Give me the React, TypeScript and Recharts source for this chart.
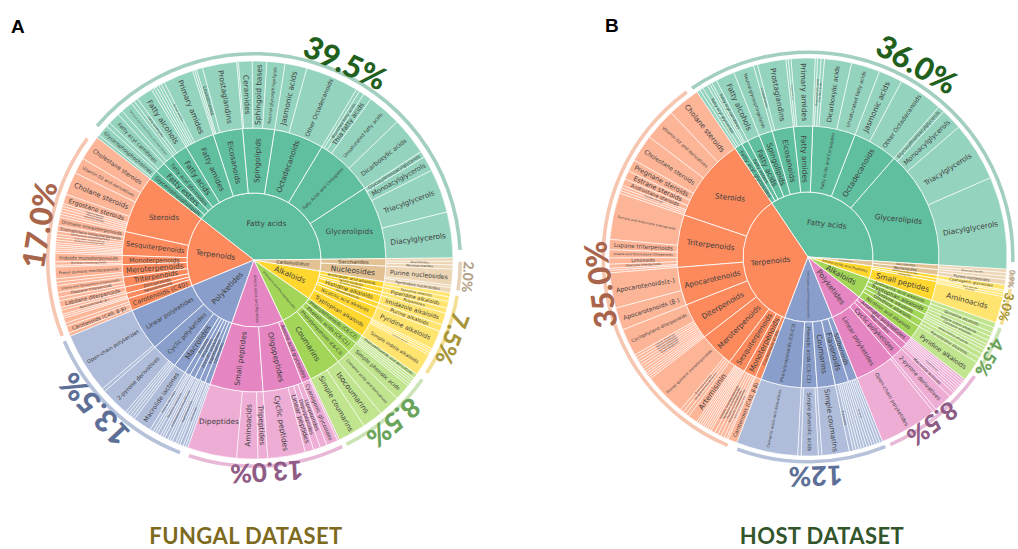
import { PieChart, Pie, Cell } from "recharts"

type Leaf = [string, number]
type Branch = [string, Leaf[]]

// Values are degrees of the wheel. Each wheel adds up to 360.
const fungalFattyAcids: Branch[] = [
  ["Glycerolipids", [["Diacylglycerols", 13.4], ["Triacylglycerols", 12.8], ["Monoacylglycerols", 4.4], ["Glycosylmonoacylglycerols", 1.8]]],
  ["Fatty Acids and Conjugates", [["Dicarboxylic acids", 11], ["Unsaturated fatty acids", 10], ["Thia fatty acids", 2.5], ["Branched fatty acids", 1.5], ["", 1]]],
  ["Octadecanoids", [["Other Octadecanoids", 15.6], ["Jasmonic acids", 6.4]]],
  ["Spingolipids", [["Neutral glycosphingolipids", 5.3], ["Sphingoid bases", 4.2], ["Ceramides", 4], ["", 0.5]]],
  ["Eicosanoids", [["Prostaglandins", 10], ["Leukotrienes", 1.8], ["", 0.6], ["", 0.6]]],
  ["Fatty amides", [["Primary amides", 8.8], ["N-acyl amines", 1], ["", 0.8], ["", 0.8], ["", 0.8], ["", 0.8]]],
  ["Fatty acids", [["Fatty alcohols", 4.8], ["Fatty aldehydes", 1.2], ["", 1]]],
  ["Fatty acyl glycosides", [["Fatty acyl glycosides of mono- and disaccharides", 3.5], ["", 1.5]]],
  ["Fatty esters", [["Fatty acyl carnitines", 3.5], ["", 1.2]]],
  ["Glycerophospholipids", [["Glycerophosphocholines", 3.4], ["", 0.9]]],
]

const fungalTerpenoids: Branch[] = [
  ["Steroids", [["Cholestane steroids", 7.3], ["Vitamin D2 and derivatives", 4.7], ["Cholane steroids", 6.7], ["Ergostane steroids", 2.8], ["Pregnane steroids", 0.8], ["Estrane steroids", 0.8], ["Androstane steroids", 0.8], ["", 0.8], ["", 0.8]]],
  ["Sesquiterpenoids", [["Drimane sesquiterpenoids", 2.5], ["Eremophilane sesquiterpenoids", 1.6], ["Germacrane sesquiterpenoids", 1], ["Eudesmane sesquiterpenoids", 0.8], ["Bisabolane sesquiterpenoids", 0.8], ["", 0.8], ["", 0.6], ["", 0.6], ["", 0.6], ["", 0.6], ["", 0.6]]],
  ["Monoterpenoids", [["Iridoids monoterpenoids", 2.5], ["Menthane monoterpenoids", 1], ["", 0.5]]],
  ["Meroterpenoids", [["Prenyl quinone meroterpenoids", 3.4], ["", 1], ["", 1]]],
  ["Triterpenoids", [["Ursane and Taraxastane triterpenoids", 2], ["Oleanane triterpenoids", 1.4], ["", 1]]],
  ["Diterpenoids", [["Labdane diterpenoids", 2], ["", 0.8]]],
  ["Apocarotenoids", [["Apocarotenoids (β-)", 1.2], ["", 0.6], ["", 0.6]]],
  ["Carotenoids (C40)", [["", 1.5], ["", 1], ["Carotenoids (C40, β-β)", 2], ["", 1]]],
]

const fungalPolyketides: Branch[] = [
  ["Linear polyketides", [["Open-chain polyketides", 17.8], ["", 1]]],
  ["Cyclic polyketides", [["2-pyrone derivatives", 8.5], ["", 0.8], ["", 0.8], ["", 0.8], ["", 0.8]]],
  ["Macrolides", [["Macrolide lactones", 5.5]]],
  ["Polyenes", [["Polyene macrolides", 1], ["", 0.7], ["", 0.7]]],
  ["Polyethers", [["Polyether ionophores", 1], ["", 0.7], ["", 0.7]]],
  ["Aromatic polyketides", [["Anthraquinones and anthrones", 1], ["", 0.7], ["", 0.7]]],
  ["Naphthalenes", [["Naphthoquinones", 1], ["", 0.7], ["", 0.7]]],
  ["Chromanes", [["Chromones", 1], ["", 0.7], ["", 0.7]]],
]

const fungalPeptides: Branch[] = [
  ["Small peptides", [["Dipeptides", 14.4], ["Aminoacids", 6.2], ["Tripeptides", 2.8]]],
  ["Oligopeptides", [["Cyclic peptides", 11], ["Linear peptides", 2.5], ["Depsipeptides", 2], ["Lipopeptides", 2]]],
  ["Amino acid glycosides", [["Cyanogenic glycosides", 3.4], ["", 0.6]]],
]

const fungalShikimates: Branch[] = [
  ["Coumarins", [["Simple coumarins", 8.1], ["Isocoumarins", 6.1]]],
  ["Phenylpropanoids (C6-C3)", [["Cinnamic acids and derivatives", 6.3]]],
  ["Phenolic acids (C6-C1)", [["Simple phenolic acids", 4.8]]],
  ["Phenylethanoids (C6-C2)", [["", 0.7], ["", 0.7], ["", 0.7], ["", 0.7], ["Phenylethanoids and derivatives", 1.4]]],
]

const fungalAlkaloids: Branch[] = [
  ["Tryptophan alkaloids", [["Simple indole alkaloids", 6.5], ["Carboline alkaloids", 0.7], ["", 0.7], ["", 0.6]]],
  ["Nicotinic acid alkaloids", [["Pyridine alkaloids", 5.5]]],
  ["Pseudoalkaloids", [["Purine alkaloids", 2]]],
  ["Histidine alkaloids", [["Imidazole alkaloids", 3.5]]],
  ["Ornithine alkaloids", [["Polyamines", 1.5]]],
  ["Lysine alkaloids", [["Piperidine alkaloids", 2]]],
  ["Anthranilic acid alkaloids", [["Quinoline alkaloids", 1.3], ["", 1.2]]],
]

const fungalCarbohydrates: Branch[] = [
  ["Nucleosides", [["Pyrimidine nucleosides", 1.5], ["", 0.7], ["Purine nucleosides", 4.7]]],
  ["Saccharides", [["Monosaccharides", 1.2], ["Disaccharides", 1], ["", 1]]],
]

const hostFattyAcids: Branch[] = [
  ["Glycerolipids", [["Diacylglycerols", 27], ["Triacylglycerols", 17.3], ["Monoacylglycerols", 6.2], ["Glycosylmonoacylglycerols", 2]]],
  ["Octadecanoids", [["Other Octadecanoids", 13], ["Jasmonic acids", 7]]],
  ["Fatty Acids and Conjugates", [["Unsaturated fatty acids", 8.4], ["Dicarboxylic acids", 7.9], ["Thia fatty acids", 1], ["Branched fatty acids", 1], ["", 0.7]]],
  ["Fatty amides", [["Primary amides", 7], ["N-acyl amines", 0.8], ["", 0.7]]],
  ["Eicosanoids", [["Prostaglandins", 8.3], ["Leukotrienes", 1.2]]],
  ["Spingolipids", [["Neutral glycosphingolipids", 6]]],
  ["Fatty acids", [["Fatty alcohols", 5.5]]],
  ["Fatty esters", [["Fatty acyl carnitines", 1.5], ["", 0.7], ["", 0.8]]],
  ["Fatty acyl glycosides", [["Fatty acyl glycosides", 1.5], ["", 1], ["", 1]]],
]

const hostTerpenoids: Branch[] = [
  ["Steroids", [["Cholane steroids", 9.6], ["Vitamin D2 and derivatives", 9.4], ["Cholestane steroids", 8], ["Pregnane steroids", 3.5], ["Estrane steroids", 2.5], ["Androstane steroids", 2], ["Ergostane steroids", 0.8], ["", 0.8], ["", 0.8]]],
  ["Triterpenoids", [["Fernane and Arborinane triterpenoids", 13.6], ["Lupane triterpenoids", 3], ["Ursane and Taraxastane triterpenoids", 2.4], ["Limonoids", 1.8], ["Oleanane triterpenoids", 1.2], ["", 0.6], ["", 0.7]]],
  ["Apocarotenoids", [["Apocarotenoids(ε-)", 10.3], ["Apocarotenoids (β-)", 6.6]]],
  ["Diterpenoids", [["Cyclophytane diterpenoids", 8], ["Labdane diterpenoids", 0.8], ["Abietane diterpenoids", 0.8], ["Pimarane diterpenoids", 0.8], ["Kaurane diterpenoids", 0.8], ["Taxane diterpenoids", 0.8], ["", 0.8], ["", 0.8], ["", 0.65], ["", 0.65], ["", 0.65], ["", 0.65]]],
  ["Meroterpenoids", [["Prenyl quinone meroterpenoids", 12.5], ["Terpenoid alkaloids", 1], ["Sesquiterpenoid quinones", 1], ["", 1]]],
  ["Sesquiterpenoids", [["Artemisinin", 2.9], ["", 0.6], ["", 0.6], ["", 0.6], ["", 0.6], ["", 0.6], ["", 0.6], ["", 0.6], ["", 0.6]]],
  ["Monoterpenoids", [["Iridoids monoterpenoids", 1.2], ["Menthane monoterpenoids", 1], ["Pinane monoterpenoids", 1], ["Monocyclic monoterpenoids", 1], ["Acyclic monoterpenoids", 0.8], ["", 0.5]]],
  ["Carotenoids (C40)", [["Carotenoids (C40, β-β)", 2.7]]],
]

const hostShikimates: Branch[] = [
  ["Phenylpropanoids (C6-C3)", [["Cinnamic acids and derivatives", 18]]],
  ["Phenolic acids (C6-C1)", [["", 1], ["Simple phenolic acids", 5], ["", 1]]],
  ["Coumarins", [["Simple coumarins", 8]]],
  ["Flavonoids", [["Flavonols", 1.2], ["", 0.8], ["", 0.8], ["", 0.8], ["", 0.8], ["", 0.8], ["", 0.8]]],
  ["Stilbenoids", [["Stilbenes", 0.8], ["", 0.8], ["", 0.8], ["", 0.8], ["", 0.8]]],
]

const hostPolyketides: Branch[] = [
  ["Linear polyketides", [["Open-chain polyketides", 17], ["", 1]]],
  ["Cyclic polyketides", [["2-pyrone derivatives", 5.5]]],
  ["Macrolides", [["Macrolide lactones", 1.5], ["", 0.75], ["", 0.75]]],
  ["Aromatic polyketides", [["Naphthoquinones", 0.7], ["", 0.7], ["", 0.7], ["", 0.7], ["", 0.7]]],
]

const hostAlkaloids: Branch[] = [
  ["Nicotinic acid alkaloids", [["Pyridine alkaloids", 6]]],
  ["Ornithine alkaloids", [["Pyrrolizidine alkaloids", 1.5], ["", 1.5]]],
  ["Tyrosine alkaloids", [["Isoquinoline alkaloids", 1.2], ["", 0.9], ["", 0.9]]],
  ["Tryptophan alkaloids", [["Carbazole alkaloids", 1.2], ["Simple indole alkaloids", 1.3], ["", 1.2]]],
  ["Anthranilic acid alkaloids", [["Quinoline alkaloids", 1.5], ["", 1.5]]],
]

const hostPeptides: Branch[] = [
  ["Small peptides", [["Aminoacids", 7.8], ["Dipeptides", 0.7]]],
  ["Oligopeptides", [["Cyclic peptides", 0.8], ["", 0.5]]],
  ["Amino acid glycosides", [["Cyanogenic glycosides", 1.5]]],
]

const hostCarbohydrates: Branch[] = [
  ["Nucleosides", [["Purine nucleosides", 1.5], ["", 1]]],
  ["Saccharides", [["Monosaccharides", 1], ["", 1]]],
]

const fungalPathways = ["Fatty acids", "Terpenoids", "Polyketides", "Amino acids and Peptides", "Shikimates and Phenylpropanoids", "Alkaloids", "Carbohydrates"]
const fungalGroups = [fungalFattyAcids, fungalTerpenoids, fungalPolyketides, fungalPeptides, fungalShikimates, fungalAlkaloids, fungalCarbohydrates]
const fungalPercents = ["39.5%", "17.0%", "13.5%", "13.0%", "8.5%", "7.5%", "2.0%"]
const fungalArcSpans = [136.7, 57.7, 45.8, 43.7, 28, 23.2, 8]
const fungalArcGaps = [4.4, 1.6, 2.6, 1.3, 2.2, 1.5, 3.3]

const hostPathways = ["Fatty acids", "Terpenoids", "Shikimates and Phenylpropanoids", "Polyketides", "Alkaloids", "Amino acids and Peptides", "Carbohydrates"]
const hostGroups = [hostFattyAcids, hostTerpenoids, hostShikimates, hostPolyketides, hostAlkaloids, hostPeptides, hostCarbohydrates]
const hostPercents = ["36.0%", "35.0%", "12%", "8.5%", "4.5%", "3.0%", "0.9%"]
const hostArcSpans = [125.9, 120.6, 42.4, 30.7, 14.3, 10.3, 3.7]
const hostArcGaps = [1.8, 2.9, 1.5, 1, 1, 1, 2.9]

const ringColors = ["#60bf9f", "#fc8a5c", "#8a9ecb", "#e585c1", "#a2d558", "#ffd72f", "#e2c192"]
const leafColors = ["#94d3be", "#fdb598", "#afbddb", "#eeadd5", "#c1e48e", "#ffe56f", "#edd6b5"]
const arcColors = ["#a3cfc0", "#f6c6b0", "#b6c1da", "#e7b9d6", "#cbe4b6", "#f3df95", "#e4d3ba"]
const percentColors = ["#21601c", "#a8654b", "#5d6f96", "#8f5c86", "#6aa35a", "#a8953a", "#b3a288"]

// Labels that sit level instead of following their wedge, by ring
const levelLabels = [["Fatty acids"], ["Glycerolipids", "Steroids"], ["Dipeptides"]]

const sumBranch = (branch: Branch) => branch[1].reduce((acc, leaf) => acc + leaf[1], 0)
const sumGroup = (group: Branch[]) => group.reduce((acc, branch) => acc + sumBranch(branch), 0)

function SliceLabel({ props, tilt, ringLevel }: { props: any; tilt: number; ringLevel: number }) {
  const { cx, cy, midAngle, innerRadius, outerRadius, percent, name } = props
  if (!name) return <g />
  // only a wide wedge has room for a level label
  const isLevel = levelLabels[ringLevel].includes(name) && percent > 0.02
  const position = innerRadius === 0 ? outerRadius * 0.58 : (innerRadius + outerRadius) / 2
  const radians = (midAngle * Math.PI) / 180
  const x = cx + position * Math.cos(radians)
  const y = cy - position * Math.sin(radians)
  const thickness = innerRadius === 0 ? outerRadius * 0.8 : outerRadius - innerRadius
  const arcWidth = position * percent * 2 * Math.PI
  const arcShare = innerRadius === 0 ? 0.65 : 0.9
  const fontSize = isLevel ? 7.4 : Math.min(7.4, (thickness * 0.97) / (name.length * 0.58), arcWidth * arcShare)
  const flip = Math.cos(radians) < 0
  const rotation = isLevel ? tilt : flip ? 180 - midAngle : -midAngle
  return (
    <text
      x={x}
      y={y}
      transform={`rotate(${rotation} ${x} ${y})`}
      textAnchor="middle"
      dominantBaseline="central"
      fontFamily="'DejaVu Sans'"
      fontSize={fontSize}
      fill="#3f3f3f"
    >
      {name}
    </text>
  )
}

function PercentLabel({ props, text, color, size, shift, radius }: any) {
  const { cx, cy, midAngle } = props
  const angle = midAngle + shift
  const radians = (angle * Math.PI) / 180
  const x = cx + radius * Math.cos(radians)
  const y = cy - radius * Math.sin(radians)
  return (
    <text
      x={x}
      y={y}
      transform={`rotate(${90 - angle} ${x} ${y})`}
      textAnchor="middle"
      dominantBaseline="central"
      fontFamily="Lato"
      fontWeight={900}
      fontSize={size}
      fill={color}
    >
      {text}
    </text>
  )
}

function wheel(
  key: string,
  cx: number,
  cy: number,
  radii: number[],
  startAngle: number,
  arcStart: number,
  tilt: number,
  pathways: string[],
  groups: Branch[][],
  spans: number[],
  gaps: number[],
  percents: string[],
  percentSizes: number[],
  percentShifts: number[],
  percentRadii: number[],
) {
  const endAngle = startAngle + 360
  const ringOne = pathways.map((name, i) => ({ name, value: sumGroup(groups[i]), color: ringColors[i] }))
  const ringTwo = groups.flatMap((group, i) =>
    group.map((branch) => ({ name: branch[0], value: sumBranch(branch), color: ringColors[i] })),
  )
  const ringThree = groups.flatMap((group, i) =>
    group.flatMap((branch) => branch[1].map((leaf) => ({ name: leaf[0], value: leaf[1], color: leafColors[i] }))),
  )
  const arcs = spans.flatMap((span, i) => [
    { name: percents[i], value: span, color: arcColors[i], slot: i },
    { name: "", value: gaps[i], color: "none", slot: -1 },
  ])
  const rings = [ringOne, ringTwo, ringThree]

  return [
    ...rings.map((data, level) => (
      <Pie
        key={`${key}-${level}`}
        data={data}
        dataKey="value"
        nameKey="name"
        cx={cx}
        cy={cy}
        innerRadius={radii[level]}
        outerRadius={radii[level + 1]}
        startAngle={startAngle}
        endAngle={endAngle}
        stroke="#ffffff"
        strokeWidth={level === 2 ? 0.6 : 0.8}
        labelLine={false}
        label={(props: any) => <SliceLabel props={props} tilt={tilt} ringLevel={level} />}
        isAnimationActive={false}
      >
        {data.map((entry, i) => (
          <Cell key={i} fill={entry.color} />
        ))}
      </Pie>
    )),
    <Pie
      key={`${key}-arc`}
      data={arcs}
      dataKey="value"
      nameKey="name"
      cx={cx}
      cy={cy}
      innerRadius={radii[4]}
      outerRadius={radii[4] + 3.6}
      startAngle={arcStart}
      endAngle={arcStart + 360}
      stroke="none"
      labelLine={false}
      label={(props: any) => {
        const slot = arcs[props.index].slot
        if (slot < 0) return <g />
        return (
          <PercentLabel
            props={props}
            text={percents[slot]}
            color={percentColors[slot]}
            size={percentSizes[slot]}
            shift={percentShifts[slot]}
            radius={percentRadii[slot]}
          />
        )
      }}
      isAnimationActive={false}
    >
      {arcs.map((entry, i) => (
        <Cell key={i} fill={entry.color} />
      ))}
    </Pie>,
  ]
}

export default function App() {
  return (
    <div style={{ position: "absolute", left: 0, top: 0, width: 1018, height: 549, background: "#ffffff", overflow: "hidden" }}>
      <PieChart width={1018} height={549} margin={{ top: 0, right: 0, bottom: 0, left: 0 }}>
        {wheel("fungal", 254, 260, [0, 67, 132, 199, 204.5], 0.6, 2.8, 0, fungalPathways, fungalGroups, fungalArcSpans, fungalArcGaps, fungalPercents, [31, 31, 31, 26, 27, 24, 14], [-6, -2, -3, 0, 0, 0, 0], [218, 218, 219, 213, 215, 214, 215])}
        {wheel("host", 808, 257, [0, 65, 131, 199, 203], -3.5, -1.4, 6, hostPathways, hostGroups, hostArcSpans, hostArcGaps, hostPercents, [31, 31, 27, 25, 18, 13, 8], [-1, 1, 1, -2.3, -1.5, 0, 0], [222, 210, 220, 209, 208, 205, 205])}
        <text x={11} y={33} fontFamily="'Liberation Sans'" fontWeight={700} fontSize={19} fill="#000000">A</text>
        <text x={605} y={32} fontFamily="'Liberation Sans'" fontWeight={700} fontSize={19} fill="#000000">B</text>
        <text x={246} y={544} textAnchor="middle" fontFamily="Lato" fontWeight={700} fontSize={22} letterSpacing={0.4} fill="#7d6a1e">FUNGAL DATASET</text>
        <text x={822} y={544} textAnchor="middle" fontFamily="Lato" fontWeight={700} fontSize={22} letterSpacing={0.4} fill="#33552b">HOST DATASET</text>
      </PieChart>
    </div>
  )
}
